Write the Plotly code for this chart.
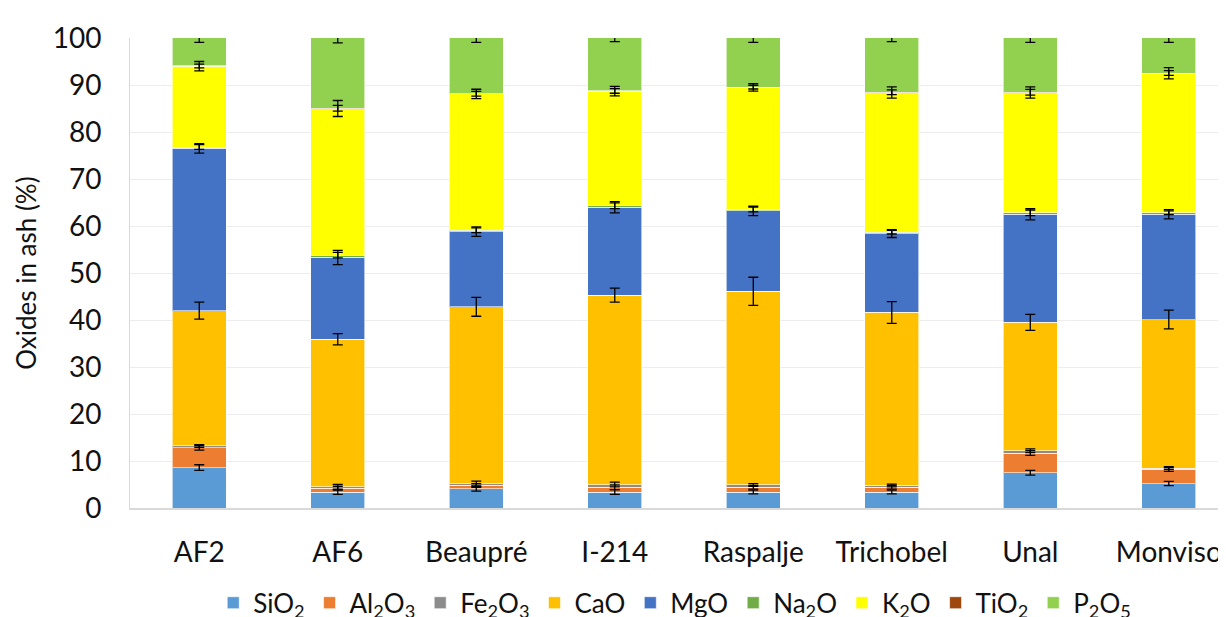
import plotly.graph_objects as go

cultivars = ["AF2", "AF6", "Beaupré", "I-214", "Raspalje", "Trichobel", "Unal", "Monviso"]

oxide_names = ["SiO<sub>2</sub>", "Al<sub>2</sub>O<sub>3</sub>", "Fe<sub>2</sub>O<sub>3</sub>", "CaO", "MgO",
               "Na<sub>2</sub>O", "K<sub>2</sub>O", "TiO<sub>2</sub>", "P<sub>2</sub>O<sub>5</sub>"]

sio2  = [8.6, 3.4, 4.1, 3.4, 3.4, 3.4, 7.5, 5.2]
al2o3 = [4.2, 0.8, 0.7, 1.0, 1.0, 1.0, 4.2, 3.0]
fe2o3 = [0.4, 0.3, 0.4, 0.6, 0.5, 0.4, 0.5, 0.3]
cao   = [28.8, 31.4, 37.6, 40.3, 41.2, 36.8, 27.3, 31.6]
mgo   = [34.5, 17.4, 16.0, 18.7, 17.1, 16.8, 23.0, 22.4]
na2o  = [0.3, 0.5, 0.3, 0.3, 0.3, 0.3, 0.3, 0.3]
k2o   = [17.2, 31.2, 29.0, 24.4, 26.0, 29.7, 25.6, 29.7]
tio2  = [0.05, 0.05, 0.05, 0.05, 0.05, 0.05, 0.05, 0.05]
p2o5  = [6.0, 15.0, 11.9, 11.3, 10.5, 11.6, 11.6, 7.5]

sio2_err  = [0.6, 0.5, 0.5, 0.5, 0.4, 0.4, 0.5, 0.45]
al2o3_err = [0.5, 0.4, 0.4, 0.5, 0.4, 0.4, 0.5, 0.4]
fe2o3_err = [0.3, 0.5, 0.5, 0.5, 0.3, 0.3, 0.4, 0.3]
cao_err   = [1.8, 1.2, 2.0, 1.5, 3.0, 2.3, 1.7, 2.0]
mgo_err   = [1.0, 1.5, 1.0, 1.2, 1.0, 0.85, 1.2, 1.0]
na2o_err  = [0.5, 0.6, 0.5, 0.6, 0.5, 0.4, 0.6, 0.4]
k2o_err   = [1.0, 1.7, 1.0, 1.0, 0.8, 1.2, 1.2, 1.2]
tio2_err  = [0.4, 0.6, 0.5, 0.5, 0.4, 0.5, 0.6, 0.5]
p2o5_err  = [1.0, 1.1, 1.0, 0.8, 1.0, 0.8, 1.0, 1.0]

series = [sio2, al2o3, fe2o3, cao, mgo, na2o, k2o, tio2, p2o5]
errors = [sio2_err, al2o3_err, fe2o3_err, cao_err, mgo_err, na2o_err, k2o_err, tio2_err, p2o5_err]
colors = ["#5B9BD5", "#ED7D31", "#8C8C8C", "#FFC000", "#4472C4", "#70AD47", "#FFFF00", "#9E480E", "#92D050"]

FONT = "Lato"

fig = go.Figure()
for name, vals, col in zip(oxide_names, series, colors):
    fig.add_trace(go.Bar(
        x=cultivars, y=vals, name=name,
        marker=dict(color=col, line=dict(color="rgba(255,255,255,0.6)", width=1)),
        width=0.39,
    ))

# error bars drawn on top of every stacked segment
running = [0.0] * len(cultivars)
for vals, err in zip(series, errors):
    running = [r + v for r, v in zip(running, vals)]
    fig.add_trace(go.Scatter(
        x=cultivars, y=list(running), mode="markers",
        marker=dict(size=1, opacity=0),
        showlegend=False, hoverinfo="skip", cliponaxis=False,
        error_y=dict(type="data", array=err, visible=True, color="#000000",
                     thickness=1.3, width=5),
    ))

fig.update_layout(
    barmode="stack",
    width=1226, height=617,
    margin=dict(l=122, r=8, t=30, b=117),
    paper_bgcolor="white", plot_bgcolor="white",
    font=dict(family=FONT, size=26, color="#111111"),
    showlegend=True,
    legend=dict(orientation="h", x=0.497, xanchor="center",
                yref="container", y=0.036, yanchor="middle",
                font=dict(size=26, family=FONT), traceorder="normal",
                itemwidth=30, bgcolor="rgba(0,0,0,0)"),
    xaxis=dict(range=[-0.5, 7.413], showline=True, linecolor="#D9D9D9", linewidth=1.5,
               ticks="", tickfont=dict(size=28, family=FONT), showgrid=False,
               ticklabelstandoff=19, automargin=False),
    yaxis=dict(range=[0, 100], dtick=10, showline=True, linecolor="#D9D9D9", linewidth=1,
               gridcolor="#EDEDED", gridwidth=1, ticks="", zeroline=False,
               tickfont=dict(size=28, family=FONT), ticklabelstandoff=22, automargin=False,
               title=dict(text="Oxides in ash (%)", font=dict(size=26, family=FONT), standoff=8)),
)

fig.write_html("out.html")
